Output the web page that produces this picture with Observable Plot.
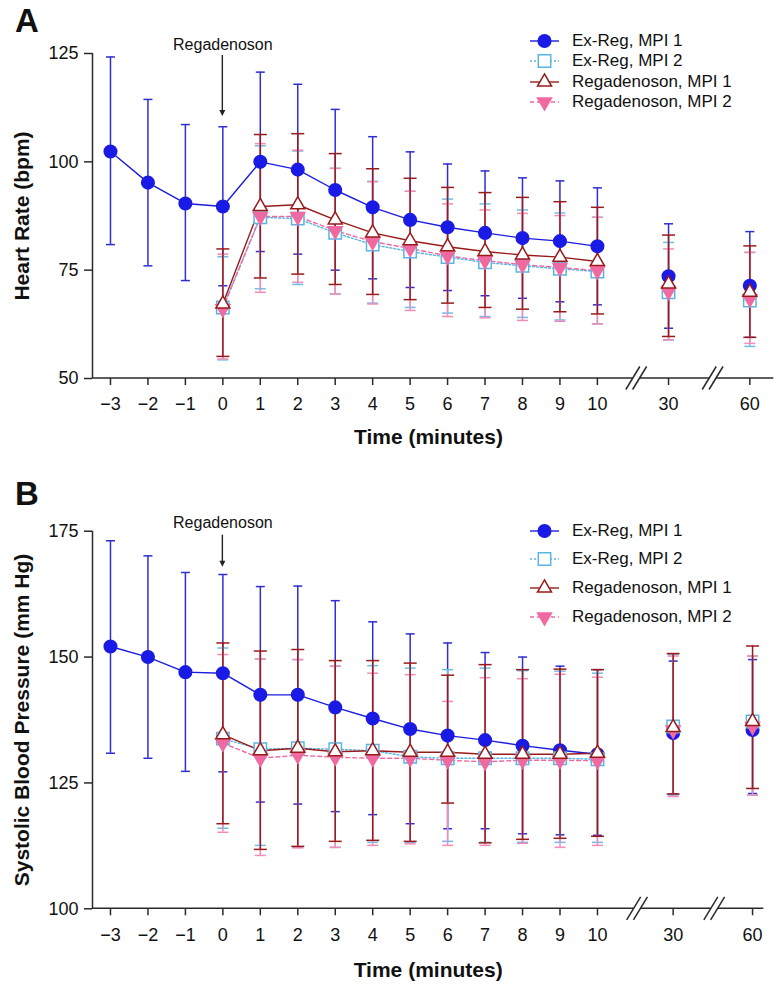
<!DOCTYPE html>
<html><head><meta charset="utf-8">
<script src="https://cdn.jsdelivr.net/npm/d3@7"></script>
<script src="https://cdn.jsdelivr.net/npm/@observablehq/plot@0.6"></script>
<style>
body{margin:0;background:#fff;font-family:"Liberation Sans",Arial,sans-serif;}
#wrap{position:relative;width:777px;height:987px;overflow:hidden;background:#fff;}
.panel{position:absolute;left:0;}
.letter{position:absolute;left:15px;font-size:33px;font-weight:bold;line-height:1;color:#111;}
.row{position:absolute;left:528px;height:20px;display:flex;align-items:center;white-space:nowrap;font-size:17px;color:#111;}
.row svg{flex:none;}
</style></head>
<body><div id="wrap"></div>
<script>
// ---------- data ----------
const time = [-3,-2,-1,0,1,2,3,4,5,6,7,8,9,10,30,60];
const timeLabels = ["−3","−2","−1","0","1","2","3","4","5","6","7","8","9","10","30","60"];
const seriesNames = ["Ex-Reg, MPI 1","Ex-Reg, MPI 2","Regadenoson, MPI 1","Regadenoson, MPI 2"];
const hrTicks = [50,75,100,125];
const sbpTicks = [100,125,150,175];
const annotation = [{time: 0, label: "Regadenoson"}];
const _ = null;

// Heart rate (bpm): mean, upper and lower error-bar ends
const hrExReg1Mean = [102.4,95.2,90.4,89.7,100.0,98.2,93.5,89.5,86.6,84.9,83.6,82.4,81.7,80.5,73.6,71.4];
const hrExReg1Hi   = [124.2,114.4,108.6,108.1,120.7,117.9,112.1,105.8,102.3,99.5,97.9,96.3,95.6,94.0,85.7,83.9];
const hrExReg1Lo   = [80.9,76.0,72.6,71.4,79.3,78.7,75.0,73.0,71.0,70.3,69.1,68.5,67.7,67.0,61.6,59.5];
const hrExReg2Mean = [_,_,_,66.4,87.2,86.9,83.6,80.9,79.3,78.0,76.8,76.0,75.3,74.7,69.9,68.0];
const hrExReg2Hi   = [_,_,_,78.1,103.7,102.5,98.5,95.5,93.2,91.4,90.3,88.9,88.2,87.2,81.4,79.1];
const hrExReg2Lo   = [_,_,_,54.3,70.7,71.7,69.5,67.4,66.4,65.1,64.3,64.1,63.5,62.6,58.9,57.4];
const hrReg1Mean   = [_,_,_,67.2,89.7,90.1,86.6,83.6,81.8,80.4,79.3,78.5,78.0,77.0,71.8,69.9];
const hrReg1Hi     = [_,_,_,79.9,106.3,106.5,101.9,98.4,96.2,94.1,92.9,91.8,90.8,89.5,83.1,80.6];
const hrReg1Lo     = [_,_,_,55.1,73.2,74.1,71.7,69.4,68.2,67.4,66.4,66.0,65.4,64.9,59.7,59.5];
const hrReg2Mean   = [_,_,_,66.1,87.4,87.4,84.1,81.6,80.0,78.3,77.2,76.3,75.6,74.9,70.1,68.4];
const hrReg2Hi     = [_,_,_,78.7,104.2,102.7,98.5,95.4,93.2,90.3,88.9,88.1,87.6,87.2,79.9,79.1];
const hrReg2Lo     = [_,_,_,54.5,69.9,72.2,69.5,67.2,65.7,64.3,64.0,63.4,63.2,62.6,58.9,58.1];

// Systolic blood pressure (mm Hg)
const sbpExReg1Mean = [152.1,150.0,147.0,146.8,142.5,142.5,140.0,137.8,135.7,134.4,133.5,132.4,131.5,130.7,134.9,135.5];
const sbpExReg1Hi   = [173.1,170.1,166.8,166.4,164.0,164.1,161.2,157.0,154.6,152.8,150.9,150.0,148.2,147.5,149.2,149.5];
const sbpExReg1Lo   = [130.9,129.9,127.3,127.2,121.2,120.8,119.3,118.7,116.9,115.9,115.9,114.9,114.7,114.6,122.8,122.9];
const sbpExReg2Mean = [_,_,_,133.8,131.7,131.9,131.7,131.4,130.2,129.9,129.9,129.9,129.9,129.7,136.2,137.2];
const sbpExReg2Hi   = [_,_,_,151.8,149.6,149.5,148.2,148.3,147.8,147.5,147.8,147.3,147.2,146.8,150.5,150.2];
const sbpExReg2Lo   = [_,_,_,116.0,112.6,112.2,112.2,113.2,113.2,113.4,113.2,113.2,113.2,113.2,122.6,122.6];
const sbpReg1Mean   = [_,_,_,134.6,131.4,131.9,131.2,131.4,131.1,131.1,130.7,130.7,130.7,130.9,136.0,137.2];
const sbpReg1Hi     = [_,_,_,152.8,151.2,151.5,149.3,149.3,148.8,146.4,148.5,147.5,147.6,147.5,150.7,152.2];
const sbpReg1Lo     = [_,_,_,116.9,111.8,112.4,113.4,113.6,113.4,121.0,113.1,113.8,114.0,114.4,122.8,123.9];
const sbpReg2Mean   = [_,_,_,132.9,129.9,130.5,130.1,129.9,129.9,129.5,129.2,129.5,129.5,129.4,135.5,136.2];
const sbpReg2Hi     = [_,_,_,150.5,149.6,149.5,148.2,146.8,146.5,141.2,145.9,145.7,146.6,146.0,150.2,150.2];
const sbpReg2Lo     = [_,_,_,115.2,110.6,112.1,112.2,112.6,112.9,112.6,112.6,113.0,112.2,112.6,122.3,122.6];

// ---------- styling ----------
const symFromDraw = f => ({draw(ctx, size){ f(ctx, Math.sqrt(size / Math.PI)); }});
const capSym = symFromDraw((c, r) => { c.moveTo(-r, 0); c.lineTo(r, 0); });
const squareSym = symFromDraw((c, r) => { c.rect(-r, -r, 2*r, 2*r); });
const upTri = symFromDraw((c, r) => { const h = r*1.73; c.moveTo(0, -h*2/3); c.lineTo(r, h/3); c.lineTo(-r, h/3); c.closePath(); });
const downTri = symFromDraw((c, r) => { const h = r*1.73; c.moveTo(0, h*2/3); c.lineTo(r, -h/3); c.lineTo(-r, -h/3); c.closePath(); });

const styles = [
  {color:"#1c1ce0", bar:"#2e2ed2", dash:null,  symbol:"circle",  fill:"#1a1ae6", r:6.3, cap:4.5},
  {color:"#5ab4e4", bar:"#6dbde8", dash:"2,2", symbol:squareSym, fill:"#fff",    r:6.2, cap:5.5},
  {color:"#9a1a1a", bar:"#9a1a1a", dash:null,  symbol:upTri,     fill:"#fff",    r:7,   cap:6.5},
  {color:"#f06aa2", bar:"#f28bb8", dash:"4,3", symbol:downTri,   fill:"#f06aa2", r:7,   cap:5.5}
];
const drawOrder = [0, 1, 3, 2];

function buildRows(arrs, cfg) {
  const rows = [];
  arrs.forEach(([m, hi, lo], s) => {
    time.forEach((t, i) => {
      if (m[i] == null) return;
      rows.push({s, t, pos: cfg.pos(t), mean: m[i], hi: hi[i], lo: lo[i]});
    });
  });
  return rows;
}

function xAxisLine(cfg) {
  return (index, scales, values, dims) => {
    const y = dims.height - dims.marginBottom;
    const x0 = dims.marginLeft, x1 = dims.width - dims.marginRight;
    const bx = cfg.breaks.map(b => scales.x(b));
    const g = d3.create("svg:g").attr("stroke", "#2a2a2a").attr("stroke-width", 1.5).attr("fill", "none");
    const edges = [x0, ...bx.flatMap(b => [b - 3.4, b + 3.4]), x1];
    for (let i = 0; i < edges.length; i += 2)
      g.append("line").attr("x1", edges[i]).attr("x2", edges[i+1]).attr("y1", y).attr("y2", y);
    for (const b of bx) for (const o of [-3.4, 3.4])
      g.append("line").attr("x1", b + o - 7).attr("y1", y + 11.5).attr("x2", b + o + 7).attr("y2", y - 11.5);
    return g.node();
  };
}

function arrowMark(cfg) {
  return (index, scales, values, dims) => {
    const g = d3.create("svg:g");
    for (const a of annotation) {
      const x = scales.x(cfg.pos(a.time));
      const top = dims.marginTop;
      g.append("line").attr("x1", x).attr("x2", x).attr("y1", top + cfg.arrow[0]).attr("y2", top + cfg.arrow[1] - 5)
        .attr("stroke", "#222").attr("stroke-width", 1.4);
      g.append("path").attr("d", `M${x-3},${top+cfg.arrow[1]-6}L${x+3},${top+cfg.arrow[1]-6}L${x},${top+cfg.arrow[1]}Z`).attr("fill", "#222");
    }
    return g.node();
  };
}

function panel(arrs, cfg) {
  const rows = buildRows(arrs, cfg);
  const tickPos = time.map(cfg.pos);
  const labelByPos = new Map(tickPos.map((p, i) => [p, timeLabels[i]]));
  const marks = [];
  // error bars
  for (const s of drawOrder) {
    const st = styles[s];
    const d = rows.filter(r => r.s === s);
    marks.push(Plot.ruleX(d, {x: "pos", y1: "lo", y2: "hi", stroke: st.bar, strokeWidth: 1.5}));
    marks.push(Plot.dot(d, {x: "pos", y: "hi", symbol: capSym, r: st.cap, stroke: st.bar, strokeWidth: 1.5, fill: "none"}));
    marks.push(Plot.dot(d, {x: "pos", y: "lo", symbol: capSym, r: st.cap, stroke: st.bar, strokeWidth: 1.5, fill: "none"}));
  }
  // connecting lines (first 10 minutes)
  for (const s of drawOrder) {
    const st = styles[s];
    const d = rows.filter(r => r.s === s && r.t <= 10);
    marks.push(Plot.line(d, {x: "pos", y: "mean", stroke: st.color, strokeWidth: 1.4, strokeDasharray: st.dash}));
  }
  // markers
  for (const s of drawOrder) {
    const st = styles[s];
    const d = rows.filter(r => r.s === s);
    marks.push(Plot.dot(d, {x: "pos", y: "mean", symbol: st.symbol, r: st.r, fill: st.fill, stroke: st.color, strokeWidth: 1.5}));
  }
  marks.push(
    Plot.ruleX([cfg.xDomain[0]], {stroke: "#2a2a2a", strokeWidth: 1.5}),
    xAxisLine(cfg),
    Plot.axisX(tickPos, {tickSize: 7, tickPadding: 12, fontSize: 18, tickFormat: p => labelByPos.get(p), label: null, stroke: "#2a2a2a", strokeWidth: 1.5}),
    Plot.axisY(cfg.yTicks, {tickSize: 8, tickPadding: 6, fontSize: 18, label: null, stroke: "#2a2a2a", strokeWidth: 1.5}),
    Plot.text([cfg.yLabel], {text: d => d, frameAnchor: "left", textAnchor: "middle", lineAnchor: "middle", dx: -70, rotate: -90, fontSize: 21, fontWeight: "bold", fill: "#111"}),
    Plot.text(["Time (minutes)"], {text: d => d, frameAnchor: "bottom", textAnchor: "middle", lineAnchor: "middle", dy: cfg.xLabelDy, dx: cfg.xLabelDx, fontSize: 21, fontWeight: "bold", fill: "#111"}),
    Plot.text(annotation, {x: d => cfg.pos(d.time), text: "label", frameAnchor: "top", lineAnchor: "middle", dy: cfg.annotDy, fontSize: 16, fill: "#111"}),
    arrowMark(cfg)
  );
  return Plot.plot({
    width: 777, height: cfg.height,
    marginLeft: 92, marginRight: cfg.marginRight, marginTop: cfg.marginTop, marginBottom: cfg.marginBottom,
    x: {domain: cfg.xDomain},
    y: {domain: cfg.yDomain},
    style: {fontFamily: '"Liberation Sans", Arial, sans-serif', background: "#fff", color: "#111", overflow: "visible"},
    marks
  });
}

const cfgA = {
  height: 460, marginTop: 53, marginBottom: 82, marginRight: 3.7,
  xDomain: [-3.48, 14.71], yDomain: [50, 125], yTicks: hrTicks, yLabel: "Heart Rate (bpm)",
  pos: t => t <= 10 ? t : (t === 30 ? 11.9 : 14.07), breaks: [11.05, 13.09],
  xLabelDy: 59, xLabelDx: -4.7, annotDy: -9, arrow: [2, 63]
};
const cfgB = {
  height: 527, marginTop: 70.7, marginBottom: 78.7, marginRight: 13.7,
  xDomain: [-3.48, 14.44], yDomain: [100, 175], yTicks: sbpTicks, yLabel: "Systolic Blood Pressure (mm Hg)",
  pos: t => t <= 10 ? t : (t === 30 ? 12.02 : 14.14), breaks: [11.07, 13.13],
  xLabelDy: 61, xLabelDx: 0, annotDy: -8, arrow: [4, 36]
};

const wrap = document.getElementById("wrap");
function addPanel(chart, top) {
  const div = document.createElement("div");
  div.className = "panel"; div.style.top = top + "px";
  div.appendChild(chart); wrap.appendChild(div);
}
addPanel(panel([
  [hrExReg1Mean, hrExReg1Hi, hrExReg1Lo],
  [hrExReg2Mean, hrExReg2Hi, hrExReg2Lo],
  [hrReg1Mean, hrReg1Hi, hrReg1Lo],
  [hrReg2Mean, hrReg2Hi, hrReg2Lo]
], cfgA), 0);
addPanel(panel([
  [sbpExReg1Mean, sbpExReg1Hi, sbpExReg1Lo],
  [sbpExReg2Mean, sbpExReg2Hi, sbpExReg2Lo],
  [sbpReg1Mean, sbpReg1Hi, sbpReg1Lo],
  [sbpReg2Mean, sbpReg2Hi, sbpReg2Lo]
], cfgB), 460);

// panel letters
[["A", 3.7], ["B", 476.7]].forEach(([t, top]) => {
  const d = document.createElement("div");
  d.className = "letter"; d.textContent = t; d.style.top = top + "px";
  wrap.appendChild(d);
});

// legends
function legendSymbol(st) {
  const svg = d3.create("svg").attr("width", 44).attr("height", 20);
  svg.append("line").attr("x1", 2).attr("x2", 31).attr("y1", 10).attr("y2", 10)
    .attr("stroke", st.color).attr("stroke-width", 1.4).attr("stroke-dasharray", st.dash);
  const sym = typeof st.symbol === "string" ? d3.symbolCircle : st.symbol;
  svg.append("path").attr("transform", "translate(16.5,10)")
    .attr("d", d3.symbol(sym, st.r * st.r * Math.PI)())
    .attr("fill", st.fill).attr("stroke", st.color).attr("stroke-width", 1.5);
  return svg.node();
}
function addLegend(top0, step) {
  seriesNames.forEach((name, i) => {
    const row = document.createElement("div");
    row.className = "row"; row.style.top = (top0 + i * step - 10) + "px";
    row.appendChild(legendSymbol(styles[i]));
    const sp = document.createElement("span"); sp.textContent = name;
    row.appendChild(sp); wrap.appendChild(row);
  });
}
addLegend(40.7, 20.4);
addLegend(530.7, 28.7);
</script>
</body></html>
